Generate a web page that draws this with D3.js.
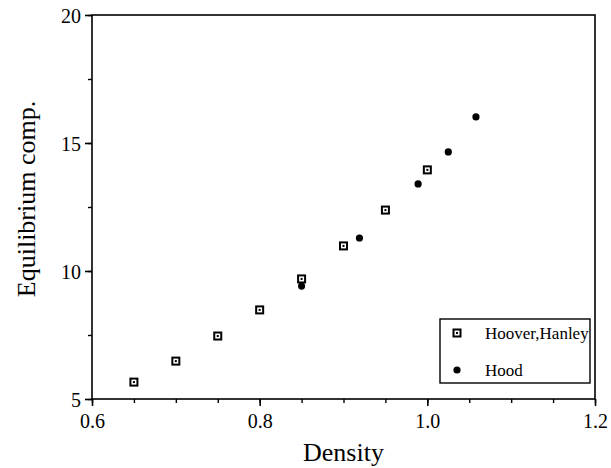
<!DOCTYPE html>
<html>
<head>
<meta charset="utf-8">
<script src="https://cdn.jsdelivr.net/npm/d3@7"></script>
<style>
  body { margin: 0; background: #fff; }
</style>
</head>
<body>
<div id="chart"></div>
<script>
// data
const hooverDensity = [0.65, 0.70, 0.75, 0.80, 0.85, 0.90, 0.95, 1.00];
const hooverComp    = [5.66, 6.48, 7.46, 8.48, 9.69, 10.98, 12.38, 13.95];
const hoodDensity   = [0.85, 0.919, 0.989, 1.025, 1.058];
const hoodComp      = [9.41, 11.29, 13.40, 14.65, 16.02];
const xTicks = [0.6, 0.8, 1.0, 1.2];
const yTicks = [5, 10, 15, 20];
const seriesNames = ["Hoover,Hanley", "Hood"];

const fontName = "'Liberation Serif'";

const width = 611, height = 468;
const margin = {top: 15, right: 16, bottom: 69, left: 92};
const visWidth = width - margin.left - margin.right;
const visHeight = height - margin.top - margin.bottom;

const svg = d3.select("#chart").append("svg")
    .attr("width", width)
    .attr("height", height);

const g = svg.append("g")
    .attr("transform", `translate(${margin.left}, ${margin.top})`);

const x = d3.scaleLinear().domain([0.6, 1.2]).range([0, visWidth]);
const y = d3.scaleLinear().domain([5, 20]).range([visHeight, 0]);

// frame
g.append("rect")
    .attr("width", visWidth)
    .attr("height", visHeight)
    .attr("fill", "none")
    .attr("stroke", "#000")
    .attr("stroke-width", 1.6);

// minor ticks
g.append("g")
    .attr("transform", `translate(0, ${visHeight})`)
    .call(d3.axisBottom(x).tickValues(d3.range(0.6, 1.2001, 0.05)).tickSize(4).tickFormat(""))
    .call(a => a.select(".domain").remove())
    .call(a => a.selectAll("line").attr("stroke-width", 1.4));

g.append("g")
    .call(d3.axisLeft(y).tickValues(d3.range(5, 20.001, 2.5)).tickSize(4).tickFormat(""))
    .call(a => a.select(".domain").remove())
    .call(a => a.selectAll("line").attr("stroke-width", 1.4));

// major ticks + labels
const xAxis = g.append("g")
    .attr("transform", `translate(0, ${visHeight})`)
    .call(d3.axisBottom(x).tickValues(xTicks).tickSize(7).tickFormat(d3.format(".1f")))
    .attr("font-family", null)
    .attr("font-size", null)
    .call(a => a.select(".domain").remove())
    .call(a => a.selectAll("line").attr("stroke-width", 1.6));
xAxis.selectAll("text")
    .style("font-family", fontName)
    .style("font-size", "20px")
    .attr("fill", "#000")
    .attr("dy", null)
    .attr("y", 29);

const yAxis = g.append("g")
    .call(d3.axisLeft(y).tickValues(yTicks).tickSize(7).tickFormat(d3.format("d")))
    .attr("font-family", null)
    .attr("font-size", null)
    .call(a => a.select(".domain").remove())
    .call(a => a.selectAll("line").attr("stroke-width", 1.6));
yAxis.selectAll("text")
    .style("font-family", fontName)
    .style("font-size", "20px")
    .attr("fill", "#000")
    .attr("x", -11)
    .attr("dy", "0.35em");

// axis titles
svg.append("text")
    .attr("x", margin.left + visWidth / 2)
    .attr("y", 461)
    .attr("text-anchor", "middle")
    .style("font-family", fontName)
    .style("font-size", "26px")
    .text("Density");

svg.append("text")
    .attr("transform", "translate(35, 199) rotate(-90)")
    .attr("text-anchor", "middle")
    .style("font-family", fontName)
    .style("font-size", "26px")
    .text("Equilibrium comp.");

// markers
function squareMark(sel) {
  sel.append("rect")
      .attr("x", -3.5).attr("y", -3.5)
      .attr("width", 7).attr("height", 7)
      .attr("fill", "#fff")
      .attr("stroke", "#000")
      .attr("stroke-width", 2);
  sel.append("rect")
      .attr("x", -1).attr("y", -1)
      .attr("width", 2).attr("height", 2)
      .attr("fill", "#000");
}

const hoover = hooverDensity.map((d, i) => ({x: d, y: hooverComp[i]}));
const hood = hoodDensity.map((d, i) => ({x: d, y: hoodComp[i]}));

g.selectAll(".hoover")
  .data(hoover)
  .join("g")
    .attr("class", "hoover")
    .attr("transform", d => `translate(${x(d.x)}, ${y(d.y)})`)
    .call(squareMark);

g.selectAll(".hood")
  .data(hood)
  .join("circle")
    .attr("class", "hood")
    .attr("cx", d => x(d.x))
    .attr("cy", d => y(d.y))
    .attr("r", 3.6)
    .attr("fill", "#000");

// legend
const legend = svg.append("g").attr("transform", "translate(440, 319)");
legend.append("rect")
    .attr("width", 150)
    .attr("height", 64)
    .attr("fill", "#fff")
    .attr("stroke", "#000")
    .attr("stroke-width", 1.4);

const items = legend.selectAll(".item")
  .data(seriesNames)
  .join("g")
    .attr("class", "item")
    .attr("transform", (d, i) => `translate(17, ${14 + i * 37})`);

items.filter((d, i) => i === 0).call(squareMark);
items.filter((d, i) => i === 1).append("circle").attr("r", 3.6).attr("fill", "#000");

items.append("text")
    .attr("x", 28)
    .attr("y", 6)
    .style("font-family", fontName)
    .style("font-size", "17px")
    .text(d => d);
</script>
</body>
</html>
